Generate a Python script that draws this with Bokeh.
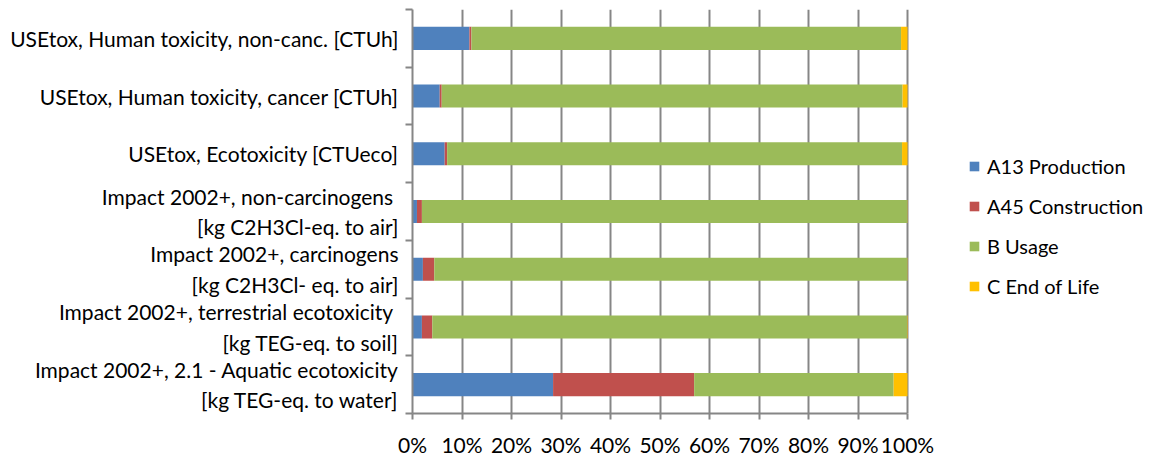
from bokeh.plotting import figure
from bokeh.models import ColumnDataSource, Range1d, FixedTicker, Legend, LegendItem
from bokeh.embed import file_html
from bokeh.resources import INLINE

categories = [
    "USEtox, Human toxicity, non-canc. [CTUh]",
    "USEtox, Human toxicity, cancer [CTUh]",
    "USEtox, Ecotoxicity [CTUeco]",
    "Impact 2002+, non-carcinogens \n[kg C2H3Cl-eq. to air]",
    "Impact 2002+, carcinogens\n[kg C2H3Cl- eq. to air]",
    "Impact 2002+, terrestrial ecotoxicity \n[kg TEG-eq. to soil]",
    "Impact 2002+, 2.1 - Aquatic ecotoxicity\n[kg TEG-eq. to water]",
]
a13_production = [11.5, 5.5, 6.5, 0.9, 2.1, 1.9, 28.4]
a45_construction = [0.4, 0.4, 0.5, 1.0, 2.3, 2.1, 28.5]
b_usage = [86.8, 93.1, 91.9, 98.05, 95.55, 95.9, 40.3]
c_end_of_life = [1.3, 1.0, 1.1, 0.05, 0.05, 0.1, 2.8]
series_names = ["A13 Production", "A45 Construction", "B Usage", "C End of Life"]
colors = ["#4F81BD", "#C0504D", "#9BBB59", "#FFC000"]
x_ticks = list(range(0, 101, 10))
x_tick_labels = [f"{t}%" for t in x_ticks]

n = len(categories)
ypos = [n - i for i in range(n)]

source = ColumnDataSource(dict(
    y=ypos,
    a13=a13_production,
    a45=a45_construction,
    b=b_usage,
    c=c_end_of_life,
))

FONT = "Lato"
GRAY = "#868686"

# frame spans 412..1156 px; 100% must fall at 907 px -> extend range so legend fits inside
x_end = 100 * (1156 - 412) / (907 - 412)

p = figure(width=1156, height=459, output_backend="svg", toolbar_location=None,
           x_range=Range1d(0, x_end), y_range=Range1d(0.5, n + 0.5),
           min_border_left=412, min_border_right=0, min_border_top=9,
           min_border_bottom=44)
p.outline_line_color = None
p.background_fill_color = "white"
p.border_fill_color = "white"

renderers = p.hbar_stack(["a13", "a45", "b", "c"], y="y", height=0.4,
                         color=colors, line_color=None, source=source)

# x axis
p.xaxis.bounds = (0, 100)
p.xaxis.ticker = FixedTicker(ticks=x_ticks)
p.xaxis.major_label_overrides = {t: l for t, l in zip(x_ticks, x_tick_labels)}
p.xaxis.axis_line_color = GRAY
p.xaxis.axis_line_width = 2
p.xaxis.major_tick_line_color = GRAY
p.xaxis.major_tick_line_width = 2
p.xaxis.major_tick_out = 6
p.xaxis.major_tick_in = 0
p.xaxis.minor_tick_line_color = None
p.xaxis.major_label_text_font = FONT
p.xaxis.major_label_text_font_size = "21px"
p.xaxis.major_label_text_color = "#000000"
p.xaxis.major_label_standoff = 12

# y axis
p.yaxis.ticker = FixedTicker(ticks=ypos, minor_ticks=[k + 0.5 for k in range(n + 1)])
p.yaxis.major_label_overrides = {y: c for y, c in zip(ypos, categories)}
p.yaxis.axis_line_color = GRAY
p.yaxis.axis_line_width = 2
p.yaxis.major_tick_line_color = None
p.yaxis.major_tick_out = 0
p.yaxis.major_tick_in = 0
p.yaxis.minor_tick_line_color = GRAY
p.yaxis.minor_tick_line_width = 2
p.yaxis.minor_tick_out = 7
p.yaxis.minor_tick_in = 0
p.yaxis.major_label_text_font = FONT
p.yaxis.major_label_text_font_size = "21px"
p.yaxis.major_label_text_color = "#000000"
p.yaxis.major_label_text_line_height = 1.22
p.yaxis.major_label_standoff = 7

p.xgrid.grid_line_color = GRAY
p.xgrid.grid_line_width = 2
p.xgrid.ticker = FixedTicker(ticks=x_ticks)
p.ygrid.grid_line_color = None

legend = Legend(
    items=[LegendItem(label=nm, renderers=[r]) for nm, r in zip(series_names, renderers)],
    location=(556, 115),
    orientation="vertical",
    border_line_color=None,
    background_fill_alpha=0,
    padding=0, margin=0,
    glyph_width=12, glyph_height=12,
    label_standoff=7,
    label_height=22,
    spacing=16,
    label_text_font=FONT,
    label_text_font_size="20px",
    label_text_color="#000000",
)
p.add_layout(legend, "center")

open("out.html", "w").write(file_html(p, INLINE))
